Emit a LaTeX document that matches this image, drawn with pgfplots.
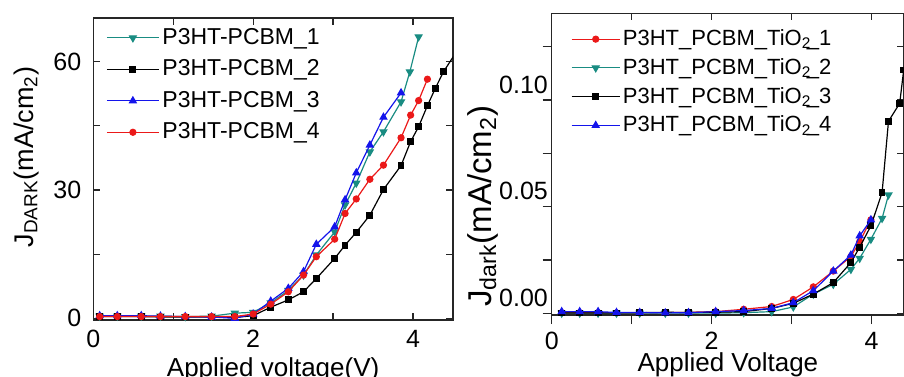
\documentclass[border=0pt]{standalone}
\usepackage{fontspec}
\setmainfont{Liberation Sans}
\usepackage{pgfplots}
\pgfplotsset{compat=1.18}
\definecolor{cteal}{RGB}{25,140,130}
\definecolor{cred}{RGB}{235,25,25}
\definecolor{cblue}{RGB}{20,20,235}
\begin{document}
\begin{tikzpicture}
\useasboundingbox (0,0) rectangle (452pt,188pt);
\pgfplotsset{
 common/.style={scale only axis, clip mode=individual,
   axis line style={line width=0.6pt, black!85},
   every tick/.style={line width=0.6pt, black!85},
   tick label style={font=\fontsize{12.5}{14}\selectfont},
   every axis plot/.append style={line width=0.6pt},
 },
}
% ---------------- left panel ----------------
\begin{axis}[common, at={(46.65pt,28pt)}, anchor=south west,
 width=179.85pt, height=151pt,
 xmin=0, xmax=4.5, ymin=-0.4, ymax=70.2,
 xtick={0,1,2,3,4}, xticklabels={0,,2,,4},
 ytick={0,15,30,45,60}, yticklabels={0,,30,,60},
 tick align=inside, major tick length=3.5pt,
 xtick pos=both, ytick pos=both, xticklabel pos=lower, yticklabel pos=left,
 xticklabel style={anchor=north, inner sep=0pt, yshift=-5pt},
 yticklabel style={anchor=east, inner sep=0pt, xshift=-5.8pt},
 xlabel={Applied voltage(V)},
 xlabel style={at={(axis description cs:0.5,-0.1225)}, anchor=north, inner sep=0pt, font=\fontsize{13}{15}\selectfont},
 ylabel={J\textsubscript{DARK}(mA/cm\textsubscript{2})},
 ylabel style={at={(axis description cs:-0.1675,0.54)}, anchor=base, inner sep=0pt, font=\fontsize{13.5}{16}\selectfont},
 legend cell align=left,
 legend image code/.code={\draw[mark repeat=2,mark phase=2,#1] plot coordinates {(0pt,0pt) (13pt,0pt) (26pt,0pt)};},
 legend style={at={(axis description cs:0.035,0.967)}, anchor=north west, draw=none, fill=none, inner sep=0pt, row sep=6.2pt,
   font=\fontsize{11.5}{13}\selectfont, nodes={inner xsep=1.5pt, inner ysep=0pt}},
]
\addplot[cteal, mark=triangle*, mark size=1.9pt, mark options={solid, fill=cteal, rotate=180}] coordinates {
(0.08,0.5)(0.30,0.5)(0.60,0.5)(0.84,0.5)(1.15,0.4)(1.48,0.5)(1.77,1.2)(2.0,1.4)(2.22,3.6)(2.44,6.5)(2.63,10.1)(2.79,14.8)(3.02,20.2)(3.15,26.5)(3.29,31.6)(3.46,38.9)(3.63,43.6)(3.85,50.6)(3.96,57.6)(4.07,65.8)};
\addlegendentry{P3HT-PCBM\_1}
\addplot[black, mark=square*, mark size=1.4pt, mark options={solid, fill=black}] coordinates {
(0.08,0.4)(0.30,0.4)(0.60,0.4)(0.84,0.3)(1.15,0.3)(1.48,0.3)(1.77,0.2)(2.0,0.6)(2.22,2.6)(2.44,4.3)(2.63,6.2)(2.79,9.3)(3.02,14.0)(3.15,17.1)(3.29,20.1)(3.46,24.1)(3.63,30.1)(3.85,35.7)(3.97,41.3)(4.07,44.8)(4.18,49.7)(4.28,53.8)(4.38,57.6)(4.55,62.5)};
\addlegendentry{P3HT-PCBM\_2}
\addplot[cblue, mark=triangle*, mark size=1.9pt, mark options={solid, fill=cblue}] coordinates {
(0.08,0.6)(0.30,0.6)(0.60,0.6)(0.84,0.5)(1.15,0.4)(1.48,0.3)(1.77,0.0)(2.0,1.0)(2.22,4.0)(2.44,7.0)(2.63,10.9)(2.79,17.3)(3.02,21.4)(3.15,27.7)(3.29,34.0)(3.46,40.5)(3.63,47.0)(3.85,52.7)};
\addlegendentry{P3HT-PCBM\_3}
\addplot[cred, mark=*, mark size=1.5pt, mark options={solid, fill=cred}] coordinates {
(0.08,0.4)(0.30,0.4)(0.60,0.4)(0.84,0.4)(1.15,0.4)(1.48,0.4)(1.77,0.4)(2.0,1.0)(2.22,3.3)(2.44,6.2)(2.63,10.1)(2.79,14.4)(3.02,18.5)(3.15,24.5)(3.29,27.9)(3.46,32.5)(3.63,35.8)(3.85,42.2)(3.97,47.5)(4.07,50.9)(4.18,55.9)};
\addlegendentry{P3HT-PCBM\_4}
\end{axis}
% ---------------- right panel: outside ticks ----------------
\begin{axis}[common, at={(275.85pt,30.5pt)}, anchor=south west,
 width=176.15pt, height=150.85pt,
 xmin=0, xmax=4.404, ymin=-0.00078, ymax=0.1406,
 xtick={0,1,2,3,4}, xticklabels={},
 ytick={0,0.025,0.05,0.075,0.1,0.125}, yticklabels={},
 tick align=outside, major tick length=4.5pt,
 xtick pos=lower, ytick pos=left,
]
\end{axis}
% ---------------- right panel: data ----------------
\begin{axis}[common, at={(275.85pt,30.5pt)}, anchor=south west,
 width=176.15pt, height=150.85pt,
 xmin=0, xmax=4.404, ymin=-0.00078, ymax=0.1406,
 xtick={0,1,2,3,4}, xticklabels={0,,2,,4},
 ytick={0,0.025,0.05,0.075,0.1,0.125}, yticklabels={0.00,,0.05,,0.10,},
 tick align=inside, major tick length=3.5pt,
 xtick pos=upper, ytick pos=right, xticklabel pos=lower, yticklabel pos=left,
 xticklabel style={anchor=north, inner sep=0pt, yshift=-8.5pt},
 yticklabel style={anchor=east, inner sep=0pt, xshift=-1.7pt, yshift=7.7pt},
 xlabel={Applied Voltage},
 xlabel style={at={(axis description cs:0.5,-0.1226)}, anchor=north, inner sep=0pt, font=\fontsize{13}{15}\selectfont},
 ylabel={J\textsubscript{dark}(mA/cm\textsubscript{2})},
 ylabel style={at={(axis description cs:-0.1723,0.36)}, anchor=base, inner sep=0pt, font=\fontsize{16.5}{18}\selectfont},
 legend cell align=left,
 legend image code/.code={\draw[mark repeat=2,mark phase=2,#1] plot coordinates {(0pt,0pt) (12pt,0pt) (24pt,0pt)};},
 legend style={at={(axis description cs:0.054,0.947)}, anchor=north west, draw=none, fill=none, inner sep=0pt, row sep=4.9pt,
   font=\fontsize{11}{13}\selectfont, nodes={inner xsep=1.3pt, inner ysep=0pt}},
]
\addplot[cred, mark=*, mark size=1.5pt, mark options={solid, fill=cred}] coordinates {
(0.125,0.0003)(0.35,0.0003)(0.58,0.0003)(0.81,0.0002)(1.10,0.0002)(1.42,0.0003)(1.71,0.0005)(2.05,0.0008)(2.40,0.0019)(2.75,0.0032)(3.02,0.0065)(3.27,0.0124)(3.52,0.0198)(3.74,0.0266)(3.85,0.0336)(3.99,0.0438)};
\addlegendentry{P3HT\_PCBM\_TiO\textsubscript{2}\kern-0.2em\_1}
\addplot[cteal, mark=triangle*, mark size=1.9pt, mark options={solid, fill=cteal, rotate=180}] coordinates {
(0.125,0.0001)(0.35,0.0001)(0.58,0.0001)(0.81,0.0001)(1.10,0.0001)(1.42,0.0001)(1.71,0.0001)(2.05,0.0001)(2.40,0.0003)(2.75,0.0008)(3.02,0.003)(3.27,0.009)(3.52,0.0136)(3.74,0.0206)(3.85,0.0258)(3.99,0.0347)(4.13,0.0445)(4.21,0.0555)};
\addlegendentry{P3HT\_PCBM\_TiO\textsubscript{2}\kern-0.2em\_2}
\addplot[black, mark=square*, mark size=1.4pt, mark options={solid, fill=black}] coordinates {
(0.125,0.0002)(0.35,0.0002)(0.58,0.0002)(0.81,0.0002)(1.10,0.0003)(1.42,0.0005)(1.71,0.0004)(2.05,0.0005)(2.40,0.0008)(2.75,0.0023)(3.02,0.0047)(3.27,0.009)(3.52,0.0144)(3.74,0.0238)(3.85,0.031)(3.99,0.041)(4.13,0.0566)(4.21,0.090)(4.35,0.0984)(4.40,0.114)};
\addlegendentry{P3HT\_PCBM\_TiO\textsubscript{2}\kern-0.2em\_3}
\addplot[cblue, mark=triangle*, mark size=1.9pt, mark options={solid, fill=cblue}] coordinates {
(0.125,0.0008)(0.35,0.0008)(0.58,0.0008)(0.81,0.0004)(1.10,0.0004)(1.42,0.0002)(1.71,0.0003)(2.05,0.0008)(2.40,0.0013)(2.75,0.0023)(3.02,0.005)(3.27,0.0106)(3.52,0.0198)(3.74,0.0273)(3.85,0.0363)(3.99,0.0438)};
\addlegendentry{P3HT\_PCBM\_TiO\textsubscript{2}\kern-0.2em\_4}
\end{axis}
\end{tikzpicture}
\end{document}
